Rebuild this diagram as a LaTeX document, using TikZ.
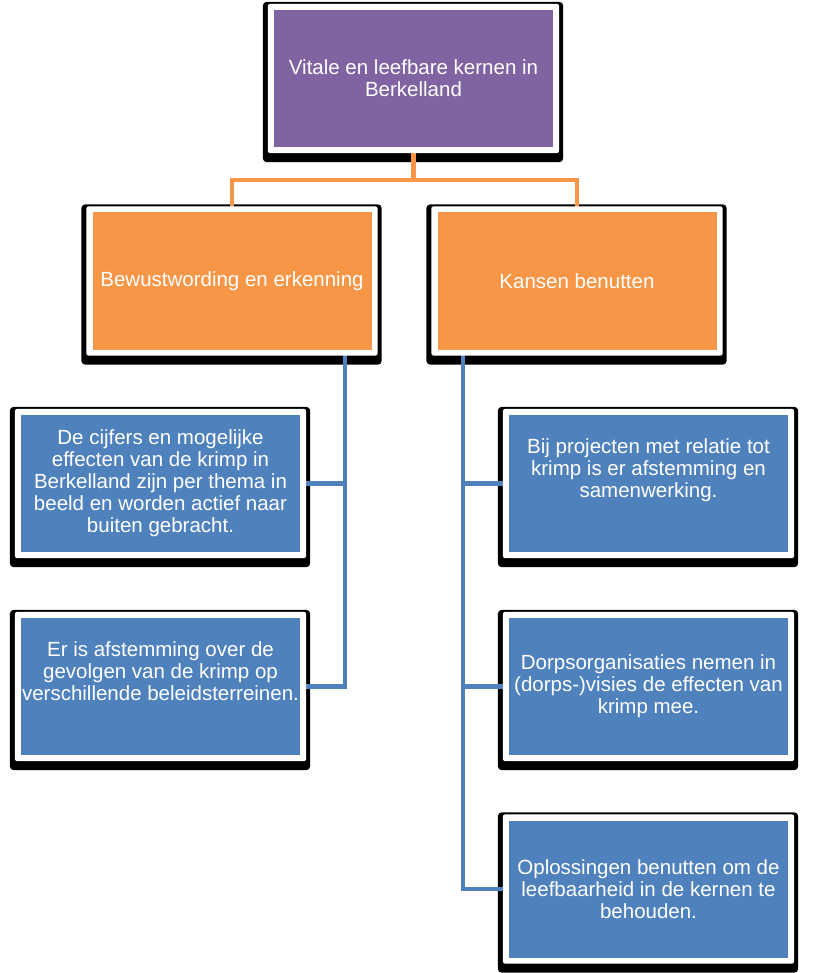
\documentclass[tikz,border=0pt]{standalone}
\usepackage{fontspec}
\setmainfont{Liberation Sans}
\usetikzlibrary{calc}
\pgfdeclarelayer{shadowlayer}
\pgfdeclarelayer{connlayer}
\pgfdeclarelayer{framelayer}
\pgfsetlayers{shadowlayer,connlayer,framelayer,main}
\definecolor{cpurple}{HTML}{8064A2}
\definecolor{corange}{HTML}{F79646}
\definecolor{cblue}{HTML}{4F81BD}
\begin{document}
\begin{tikzpicture}[x=1pt,y=1pt,
  box/.style={minimum width=279pt, minimum height=137pt, inner sep=0pt,
    align=center, text=white, font=\fontsize{20.5}{22}\selectfont},
  topbox/.style={box, fill=cpurple},
  midbox/.style={box, fill=corange},
  leafbox/.style={box, fill=cblue},
  oline/.style={draw=corange, line width=4.5pt},
  bline/.style={draw=cblue, line width=4.5pt},
  shadowbox/.style={fill=black, rounded corners=4pt},
  framebox/.style={fill=white, rounded corners=2.5pt}
]
\useasboundingbox (0,0) rectangle (824,-973);

\node[topbox] (top) at (413.5,-78.5) {Vitale en leefbare kernen in\\Berkelland};
\node[midbox] (l2a) at (232,-281) {Bewustwording en erkenning};
\node[midbox] (l2b) at (577,-281) {Kansen benutten};

\node[leafbox] (b1) at (160.5,-483.5) {De cijfers en mogelijke\\effecten van de krimp in\\Berkelland zijn per thema in\\beeld en worden actief naar\\buiten gebracht.};
\node[leafbox] (b2) at (160.5,-686.5) {Er is afstemming over de\\gevolgen van de krimp op\\verschillende beleidsterreinen.\\[8pt]~};

\node[leafbox] (r1) at (648.5,-483.5) {Bij projecten met relatie tot\\krimp is er afstemming en\\samenwerking.\\[8pt]~};
\node[leafbox] (r2) at (648.5,-686.5) {Dorpsorganisaties nemen in\\(dorps-)visies de effecten van\\krimp mee.};
\node[leafbox] (r3) at (648.5,-889) {Oplossingen benutten om de\\leefbaarheid in de kernen te\\behouden.};

\coordinate (bus) at (413.5,-180);

\begin{pgfonlayer}{connlayer}
  \draw[oline] (top.south) -- (bus);
  \draw[oline] (l2a.north) |- (bus) -| (l2b.north);
  \draw[bline] ([xshift=113pt]l2a.south) |- (b1.east);
  \draw[bline] ([xshift=113pt]l2a.south) |- (b2.east);
  \draw[bline] ([xshift=-114pt]l2b.south) |- (r1.west);
  \draw[bline] ([xshift=-114pt]l2b.south) |- (r2.west);
  \draw[bline] ([xshift=-114pt]l2b.south) |- (r3.west);
\end{pgfonlayer}

\begin{pgfonlayer}{framelayer}
  \foreach \n in {top,l2a,l2b,b1,b2,r1,r2,r3}
    \fill[framebox] ([shift={(-6pt,6pt)}]\n.north west) rectangle ([shift={(6pt,-6pt)}]\n.south east);
\end{pgfonlayer}

\begin{pgfonlayer}{shadowlayer}
  \foreach \n in {top,l2a,l2b,b1,b2,r1,r2,r3}
    \fill[shadowbox] ([shift={(-11pt,8pt)}]\n.north west) rectangle ([shift={(10pt,-15pt)}]\n.south east);
\end{pgfonlayer}
\end{tikzpicture}
\end{document}
